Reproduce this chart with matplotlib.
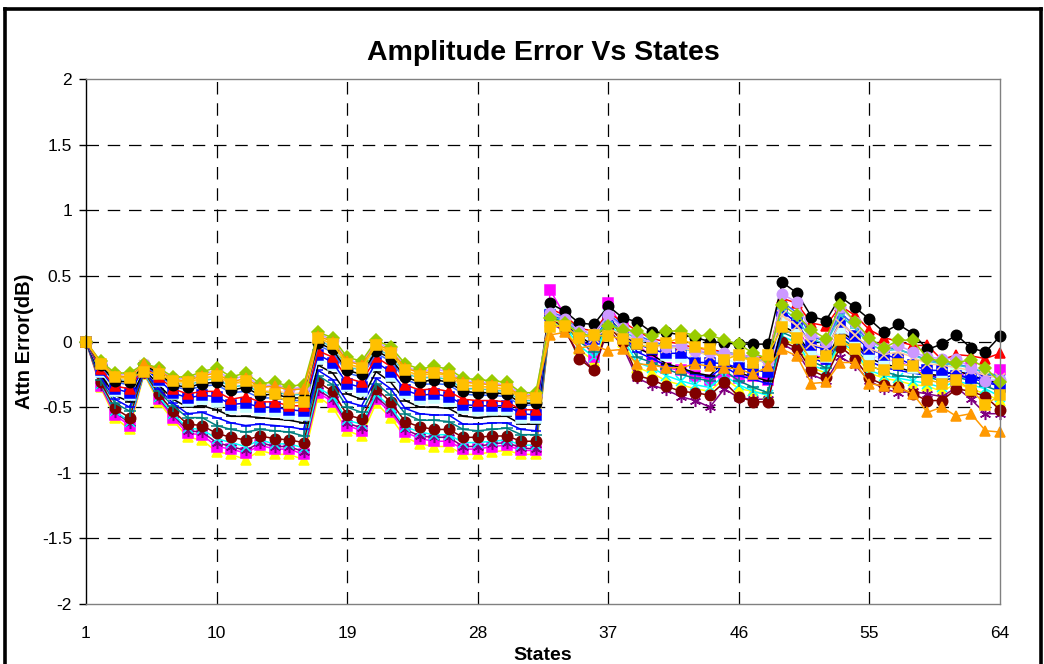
import matplotlib
matplotlib.use('Agg')
import matplotlib.pyplot as plt
from matplotlib.lines import Line2D

plt.rcParams['font.family'] = ['Liberation Sans', 'DejaVu Sans']

states = list(range(1, 65))
x_ticks = [1, 10, 19, 28, 37, 46, 55, 64]
y_ticks = [-2, -1.5, -1, -0.5, 0, 0.5, 1, 1.5, 2]
y_tick_labels = ['-2', '-1.5', '-1', '-0.5', '0', '0.5', '1', '1.5', '2']

# attenuation error (dB) per state, one list per measurement
err_yellow = [0, -0.35, -0.58, -0.67, -0.25, -0.46, -0.60, -0.73, -0.75, -0.84, -0.86, -0.90, -0.83, -0.86, -0.86, -0.90,
              -0.42, -0.50, -0.68, -0.72, -0.47, -0.58, -0.73, -0.78, -0.80, -0.80, -0.86, -0.86, -0.84, -0.83, -0.86, -0.86,
              0.15, 0.10, -0.06, -0.15, 0.12, 0.00, -0.20, -0.24, -0.30, -0.33, -0.36, -0.38, -0.28, -0.36, -0.38, -0.40,
              0.02, -0.03, -0.20, -0.24, -0.02, -0.10, -0.24, -0.28, -0.30, -0.33, -0.34, -0.38, -0.32, -0.36, -0.40, -0.45]
err_magenta = [0, -0.34, -0.56, -0.64, -0.24, -0.44, -0.58, -0.70, -0.71, -0.80, -0.82, -0.85, -0.79, -0.82, -0.82, -0.86,
               -0.39, -0.46, -0.64, -0.68, -0.44, -0.54, -0.69, -0.74, -0.76, -0.76, -0.82, -0.82, -0.80, -0.79, -0.83, -0.83,
               0.39, 0.20, 0.05, -0.12, 0.29, 0.10, -0.02, -0.12, -0.20, -0.22, -0.26, -0.29, -0.25, -0.28, -0.26, -0.29,
               0.20, 0.12, -0.10, -0.13, 0.12, 0.00, -0.10, -0.14, -0.15, -0.20, -0.24, -0.28, -0.30, -0.19, -0.30, -0.22]
err_purple = [0, -0.33, -0.54, -0.62, -0.24, -0.43, -0.56, -0.68, -0.69, -0.77, -0.80, -0.83, -0.77, -0.80, -0.80, -0.84,
              -0.37, -0.44, -0.62, -0.66, -0.42, -0.52, -0.67, -0.72, -0.73, -0.73, -0.80, -0.80, -0.78, -0.77, -0.81, -0.82,
              0.14, 0.08, -0.10, -0.22, 0.10, -0.04, -0.28, -0.33, -0.37, -0.42, -0.45, -0.50, -0.36, -0.43, -0.44, -0.44,
              -0.02, -0.08, -0.25, -0.30, -0.12, -0.18, -0.30, -0.36, -0.39, -0.38, -0.40, -0.42, -0.35, -0.44, -0.55, -0.55]
err_cyan = [0, -0.32, -0.53, -0.61, -0.24, -0.42, -0.55, -0.66, -0.67, -0.74, -0.77, -0.80, -0.75, -0.78, -0.78, -0.81,
            -0.35, -0.42, -0.60, -0.63, -0.40, -0.50, -0.65, -0.69, -0.71, -0.71, -0.77, -0.77, -0.76, -0.75, -0.79, -0.79,
            0.16, 0.11, -0.03, -0.12, 0.14, 0.02, -0.16, -0.20, -0.26, -0.30, -0.33, -0.35, -0.26, -0.33, -0.38, -0.41,
            0.04, -0.01, -0.18, -0.22, 0.00, -0.08, -0.22, -0.26, -0.28, -0.30, -0.32, -0.35, -0.30, -0.33, -0.36, -0.42]
err_maroon = [0, -0.31, -0.51, -0.58, -0.23, -0.40, -0.53, -0.63, -0.64, -0.70, -0.73, -0.75, -0.72, -0.74, -0.75, -0.77,
              -0.31, -0.38, -0.56, -0.59, -0.36, -0.46, -0.61, -0.65, -0.67, -0.67, -0.73, -0.73, -0.72, -0.72, -0.76, -0.76,
              0.18, 0.10, -0.13, -0.22, 0.12, 0.00, -0.26, -0.29, -0.34, -0.38, -0.39, -0.41, -0.31, -0.42, -0.46, -0.46,
              0.00, -0.05, -0.22, -0.27, -0.04, -0.13, -0.28, -0.33, -0.35, -0.40, -0.45, -0.45, -0.36, -0.38, -0.42, -0.52]
err_teal = [0, -0.29, -0.47, -0.53, -0.22, -0.38, -0.49, -0.58, -0.58, -0.64, -0.67, -0.69, -0.67, -0.68, -0.69, -0.72,
            -0.26, -0.33, -0.50, -0.54, -0.32, -0.41, -0.55, -0.60, -0.60, -0.61, -0.67, -0.68, -0.67, -0.66, -0.71, -0.71,
            0.19, 0.13, 0.00, -0.08, 0.16, 0.05, -0.12, -0.16, -0.21, -0.25, -0.28, -0.30, -0.22, -0.30, -0.35, -0.39,
            0.07, 0.02, -0.15, -0.20, 0.03, -0.05, -0.18, -0.23, -0.26, -0.27, -0.27, -0.30, -0.27, -0.30, -0.34, -0.38]
err_blue_dash = [0, -0.27, -0.44, -0.50, -0.22, -0.36, -0.47, -0.55, -0.54, -0.58, -0.62, -0.64, -0.63, -0.64, -0.65, -0.67,
                 -0.22, -0.29, -0.46, -0.49, -0.28, -0.36, -0.51, -0.55, -0.56, -0.56, -0.63, -0.63, -0.62, -0.62, -0.67, -0.68,
                 0.20, 0.14, 0.02, -0.05, 0.18, 0.06, -0.08, -0.13, -0.18, -0.21, -0.25, -0.27, -0.19, -0.26, -0.29, -0.32,
                 0.10, 0.04, -0.12, -0.17, 0.06, -0.02, -0.15, -0.20, -0.22, -0.24, -0.26, -0.28, -0.25, -0.28, -0.31, -0.34]
err_black_dash = [0, -0.25, -0.41, -0.46, -0.21, -0.33, -0.44, -0.50, -0.49, -0.52, -0.57, -0.57, -0.58, -0.59, -0.60, -0.62,
                  -0.18, -0.24, -0.40, -0.44, -0.23, -0.31, -0.45, -0.50, -0.50, -0.51, -0.57, -0.58, -0.57, -0.57, -0.63, -0.63,
                  0.21, 0.15, 0.04, -0.03, 0.19, 0.08, -0.05, -0.10, -0.17, -0.20, -0.24, -0.26, -0.15, -0.24, -0.27, -0.30,
                  0.12, 0.06, -0.10, -0.15, 0.08, 0.00, -0.13, -0.17, -0.20, -0.23, -0.25, -0.26, -0.22, -0.26, -0.29, -0.32]
err_pale_cyan = [0, -0.23, -0.38, -0.41, -0.20, -0.30, -0.40, -0.45, -0.44, -0.46, -0.51, -0.50, -0.52, -0.53, -0.55, -0.56,
                 -0.13, -0.18, -0.34, -0.38, -0.18, -0.26, -0.39, -0.44, -0.43, -0.45, -0.51, -0.52, -0.52, -0.52, -0.58, -0.58,
                 0.22, 0.16, 0.05, 0.00, 0.20, 0.08, 0.00, -0.05, -0.10, -0.12, -0.15, -0.18, -0.12, -0.18, -0.20, -0.22,
                 0.15, 0.08, -0.08, -0.12, 0.10, 0.02, -0.10, -0.14, -0.16, -0.20, -0.22, -0.24, -0.21, -0.24, -0.27, -0.30]
err_blue = [0, -0.22, -0.36, -0.39, -0.20, -0.29, -0.39, -0.43, -0.41, -0.42, -0.48, -0.47, -0.50, -0.50, -0.52, -0.53,
            -0.10, -0.16, -0.32, -0.35, -0.16, -0.23, -0.37, -0.41, -0.40, -0.42, -0.48, -0.49, -0.49, -0.49, -0.55, -0.56,
            0.20, 0.16, 0.06, 0.02, 0.17, 0.06, -0.02, -0.06, -0.09, -0.09, -0.16, -0.16, -0.17, -0.20, -0.22, -0.23,
            0.23, 0.14, -0.03, -0.06, 0.15, 0.04, -0.06, -0.10, -0.13, -0.18, -0.22, -0.22, -0.26, -0.28, -0.28, -0.35]
err_red = [0, -0.21, -0.34, -0.36, -0.19, -0.27, -0.36, -0.40, -0.38, -0.38, -0.44, -0.42, -0.46, -0.46, -0.49, -0.49,
           -0.07, -0.12, -0.28, -0.31, -0.12, -0.19, -0.33, -0.37, -0.36, -0.38, -0.44, -0.45, -0.45, -0.46, -0.52, -0.52,
           0.25, 0.20, 0.10, 0.08, 0.22, 0.15, 0.08, 0.02, 0.00, -0.02, -0.05, -0.06, -0.08, -0.10, -0.12, -0.12,
           0.33, 0.29, 0.14, 0.12, 0.27, 0.20, 0.09, 0.03, 0.00, -0.03, -0.03, -0.14, -0.10, -0.11, -0.13, -0.09]
err_sky = [0, -0.19, -0.31, -0.33, -0.19, -0.25, -0.34, -0.37, -0.34, -0.33, -0.39, -0.38, -0.43, -0.43, -0.45, -0.45,
           -0.03, -0.08, -0.24, -0.27, -0.09, -0.15, -0.29, -0.33, -0.32, -0.33, -0.40, -0.41, -0.41, -0.42, -0.49, -0.48,
           0.23, 0.18, 0.09, 0.05, 0.21, 0.12, 0.05, 0.00, -0.03, -0.04, -0.07, -0.09, -0.07, -0.12, -0.14, -0.15,
           0.30, 0.22, 0.04, 0.00, 0.22, 0.12, 0.00, -0.04, -0.06, -0.10, -0.14, -0.16, -0.17, -0.20, -0.24, -0.26]
err_aqua = [0, -0.18, -0.28, -0.30, -0.18, -0.23, -0.31, -0.33, -0.30, -0.28, -0.35, -0.33, -0.39, -0.38, -0.41, -0.40,
            0.01, -0.04, -0.19, -0.22, -0.05, -0.11, -0.24, -0.28, -0.27, -0.29, -0.36, -0.36, -0.37, -0.38, -0.45, -0.45,
            0.20, 0.15, 0.07, 0.03, 0.15, 0.08, 0.02, -0.01, -0.04, -0.05, -0.08, -0.10, -0.08, -0.10, -0.14, -0.16,
            0.25, 0.17, 0.02, -0.02, 0.20, 0.10, -0.02, -0.07, -0.06, -0.10, -0.15, -0.17, -0.18, -0.20, -0.24, -0.27]
err_tan = [0, -0.17, -0.28, -0.29, -0.18, -0.23, -0.31, -0.32, -0.29, -0.27, -0.33, -0.31, -0.38, -0.37, -0.40, -0.39,
           0.02, -0.03, -0.18, -0.21, -0.04, -0.10, -0.23, -0.27, -0.26, -0.27, -0.34, -0.35, -0.36, -0.37, -0.44, -0.44,
           0.17, 0.14, 0.06, 0.03, 0.10, 0.05, 0.00, -0.03, -0.05, -0.04, -0.08, -0.10, -0.10, -0.12, -0.15, -0.15,
           0.20, 0.12, -0.02, -0.05, 0.14, 0.05, -0.05, -0.10, -0.08, -0.12, -0.17, -0.18, -0.20, -0.22, -0.26, -0.28]
err_black = [0, -0.18, -0.30, -0.31, -0.18, -0.24, -0.33, -0.35, -0.32, -0.31, -0.37, -0.35, -0.41, -0.40, -0.43, -0.43,
             -0.01, -0.06, -0.22, -0.25, -0.07, -0.13, -0.27, -0.31, -0.29, -0.31, -0.38, -0.39, -0.39, -0.40, -0.47, -0.47,
             0.29, 0.23, 0.14, 0.13, 0.27, 0.18, 0.15, 0.07, 0.07, 0.05, 0.03, 0.00, -0.01, -0.02, -0.02, -0.02,
             0.45, 0.37, 0.19, 0.16, 0.34, 0.26, 0.17, 0.07, 0.13, 0.06, -0.06, -0.02, 0.05, -0.05, -0.08, 0.04]
err_lavender = [0, -0.16, -0.25, -0.25, -0.17, -0.21, -0.28, -0.28, -0.25, -0.22, -0.29, -0.26, -0.34, -0.33, -0.36, -0.35,
                0.06, 0.01, -0.14, -0.17, 0.00, -0.06, -0.19, -0.23, -0.21, -0.23, -0.30, -0.31, -0.32, -0.33, -0.40, -0.41,
                0.22, 0.17, 0.08, 0.06, 0.20, 0.10, 0.04, -0.02, -0.04, -0.03, -0.07, -0.08, -0.09, -0.10, -0.12, -0.15,
                0.36, 0.30, 0.06, 0.00, 0.26, 0.15, 0.00, -0.05, -0.03, -0.08, -0.12, -0.13, -0.13, -0.20, -0.30, -0.29]
err_lime = [0, -0.15, -0.24, -0.24, -0.17, -0.20, -0.27, -0.27, -0.23, -0.20, -0.27, -0.24, -0.32, -0.31, -0.34, -0.33,
            0.07, 0.03, -0.12, -0.15, 0.01, -0.04, -0.17, -0.21, -0.19, -0.21, -0.28, -0.29, -0.30, -0.31, -0.39, -0.39,
            0.18, 0.14, 0.06, 0.04, 0.12, 0.09, 0.08, 0.04, 0.08, 0.08, 0.04, 0.05, 0.01, -0.02, -0.09, -0.13,
            0.28, 0.20, 0.09, 0.02, 0.28, 0.15, 0.03, -0.05, 0.01, 0.01, -0.13, -0.15, -0.16, -0.14, -0.20, -0.31]
err_orange = [0, -0.16, -0.26, -0.27, -0.17, -0.22, -0.29, -0.30, -0.26, -0.24, -0.31, -0.28, -0.35, -0.34, -0.37, -0.36,
              0.04, 0.00, -0.15, -0.18, -0.02, -0.07, -0.20, -0.24, -0.23, -0.25, -0.31, -0.32, -0.33, -0.34, -0.42, -0.41,
              0.05, 0.07, -0.05, -0.03, -0.07, -0.06, -0.17, -0.18, -0.20, -0.20, -0.17, -0.19, -0.20, -0.21, -0.25, -0.19,
              -0.06, -0.11, -0.32, -0.31, -0.16, -0.16, -0.32, -0.34, -0.35, -0.40, -0.54, -0.50, -0.57, -0.55, -0.68, -0.69]
err_gold = [0, -0.17, -0.27, -0.28, -0.23, -0.25, -0.30, -0.31, -0.28, -0.26, -0.32, -0.30, -0.37, -0.40, -0.47, -0.46,
            0.03, -0.02, -0.17, -0.20, -0.03, -0.09, -0.22, -0.26, -0.24, -0.26, -0.33, -0.34, -0.35, -0.36, -0.43, -0.43,
            0.11, 0.12, 0.03, 0.05, 0.04, 0.02, -0.02, -0.05, -0.01, 0.03, -0.04, -0.06, -0.14, -0.10, -0.16, -0.10,
            0.11, 0.03, -0.15, -0.11, 0.01, -0.06, -0.19, -0.22, -0.17, -0.19, -0.29, -0.32, -0.29, -0.37, -0.48, -0.41]

# (values, line colour, marker, marker size) in drawing order, bottom first
series = [
    (err_yellow, '#FFFF00', '^', 7),
    (err_magenta, '#FF00FF', 's', 6.5),
    (err_purple, '#800080', (6, 2, 0), 8),
    (err_cyan, '#00FFFF', 'x', 7),
    (err_maroon, '#800000', 'o', 7.5),
    (err_teal, '#008080', '+', 8),
    (err_blue_dash, '#0000FF', '_', 7),
    (err_black_dash, '#000000', '_', 7),
    (err_pale_cyan, '#CCFFFF', 's', 6.5),
    (err_blue, '#0000FF', 's', 6.5),
    (err_red, '#FF0000', '^', 7),
    (err_sky, '#3366FF', '_', 7),
    (err_aqua, '#33CCCC', '_', 7),
    (err_tan, '#FFCC99', 'x', 7),
    (err_black, '#000000', 'o', 7.5),
    (err_lavender, '#CC99FF', 'o', 7.5),
    (err_lime, '#99CC00', 'D', 6.5),
    (err_orange, '#FF9900', '^', 7),
    (err_gold, '#FFC000', 's', 6.5),
]

fig = plt.figure(figsize=(10.44, 6.64), dpi=100)
ax = fig.add_axes([86 / 1044, 1 - 604 / 664, 914 / 1044, 525 / 664])

for vals, col, mk, ms in series:
    ax.plot(states, vals, color=col, lw=1.1, marker=mk, ms=ms,
            markerfacecolor=col, markeredgecolor=col, mew=1.1, clip_on=False)

ax.set_xlim(1, 64)
ax.set_ylim(-2, 2)
ax.set_xticks(x_ticks)
ax.set_xticklabels([str(t) for t in x_ticks])
ax.set_yticks(y_ticks)
ax.set_yticklabels(y_tick_labels)
ax.tick_params(axis='x', length=0, pad=16, labelsize=12.5)
ax.tick_params(axis='y', length=5, width=1, direction='out', pad=5, labelsize=12.5)

# dashed grid like a spreadsheet chart
for yv in y_ticks[1:-1]:
    ax.axhline(yv, color='black', lw=0.9, dashes=(10, 7), zorder=0)
for xv in x_ticks[1:-1]:
    ax.axvline(xv, color='black', lw=0.9, dashes=(10, 7), zorder=0)

for side in ['top', 'right', 'bottom']:
    ax.spines[side].set_color('#808080')
    ax.spines[side].set_linewidth(1.0)
ax.spines['left'].set_color('black')
ax.spines['left'].set_linewidth(1.0)

ax.set_title('Amplitude Error Vs States', fontsize=20.5, fontweight='bold', pad=14)
ax.set_xlabel('States', fontsize=14, fontweight='bold', labelpad=4)
ax.set_ylabel('Attn Error(dB)', fontsize=14.5, fontweight='bold', labelpad=6)

# outer chart frame
frame_kw = dict(color='black', lw=2.6, transform=fig.transFigure)
fig.add_artist(Line2D([5 / 1044, 5 / 1044], [0, 1 - 9 / 664], **frame_kw))
fig.add_artist(Line2D([5 / 1044, 1041 / 1044], [1 - 9 / 664, 1 - 9 / 664], **frame_kw))
fig.add_artist(Line2D([1041 / 1044, 1041 / 1044], [0, 1 - 9 / 664], **frame_kw))

fig.savefig('out.png', dpi=100, facecolor='white')
